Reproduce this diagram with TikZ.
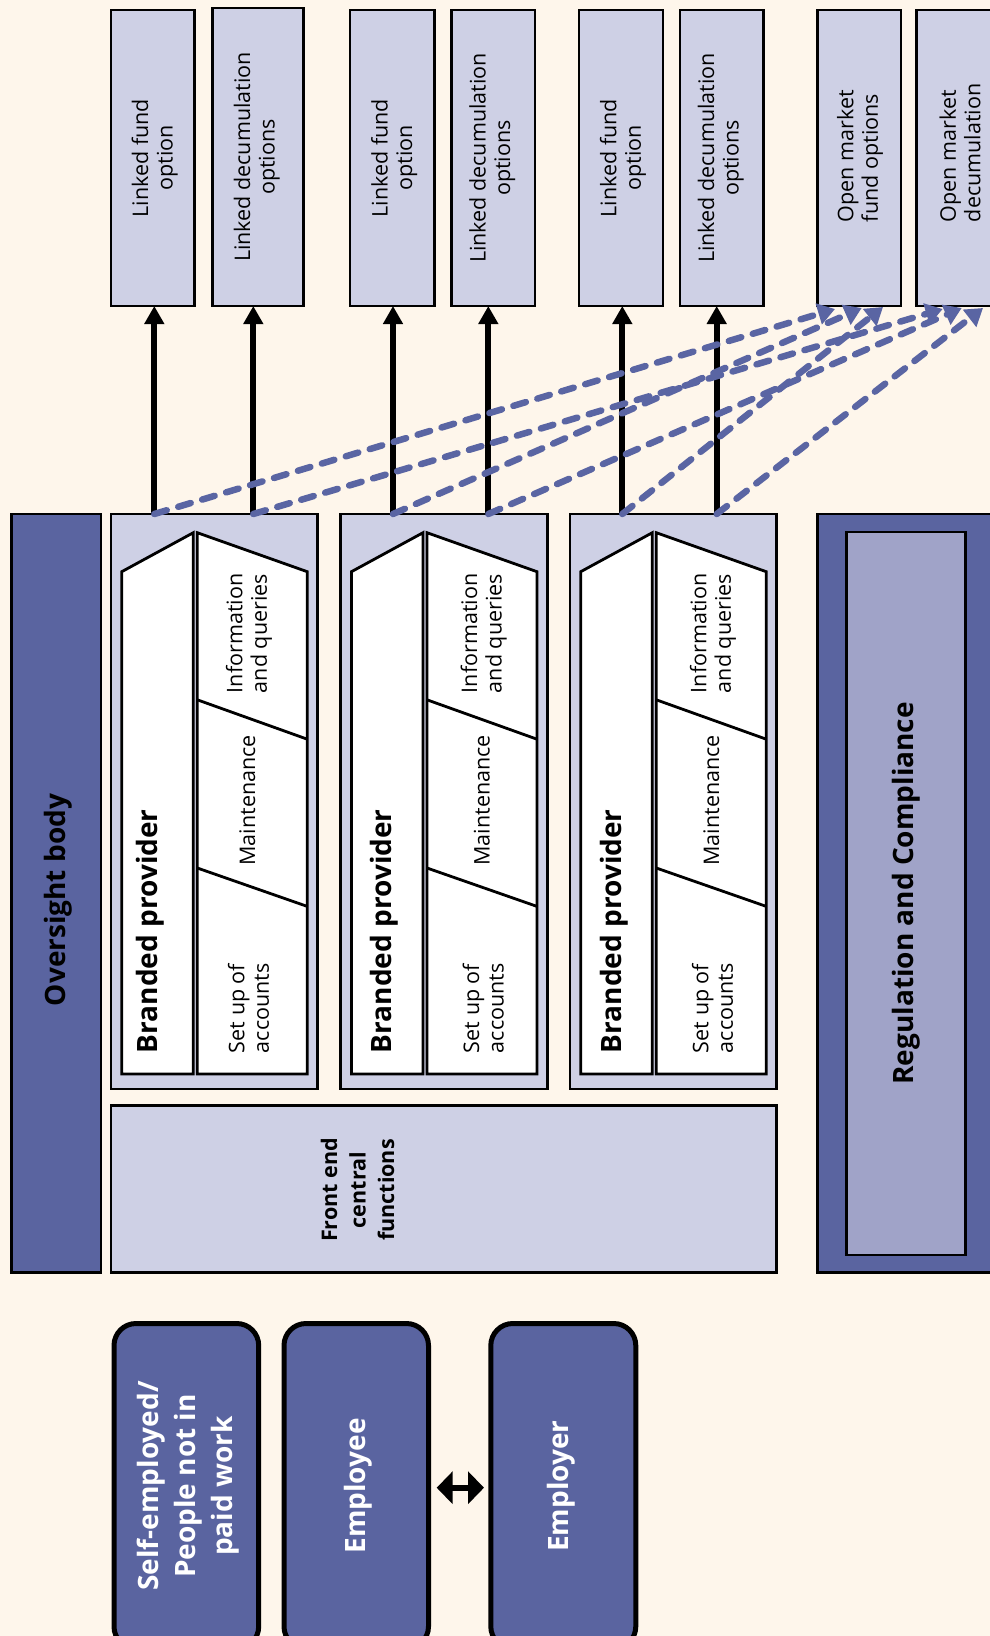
\documentclass[tikz,border=0pt]{standalone}
\usepackage{fontspec}
\setmainfont{Open Sans}
\usetikzlibrary{arrows.meta}
\definecolor{bgc}{HTML}{FEF6EB}
\definecolor{lav}{HTML}{CED0E5}
\definecolor{dblue}{HTML}{5A64A0}
\definecolor{mblue}{HTML}{A0A3C8}
\definecolor{dashc}{HTML}{5A65A3}
\newcommand{\regf}{\fontsize{21.5}{24.5}\selectfont}
\newcommand{\bigb}{\fontsize{28}{37}\selectfont\bfseries}
\newcommand{\midb}{\fontsize{21.5}{28.5}\selectfont\bfseries}
\begin{document}
\begin{tikzpicture}[x=1pt,y=-1pt,
  every node/.style={outer sep=0pt, inner sep=0pt},
  obox/.style={draw=black, line width=2.5pt, fill=lav, anchor=north west},
  dbox/.style={draw=black, line width=2.5pt, fill=dblue, anchor=north west},
  ibox/.style={draw=black, line width=2.5pt, fill=mblue, anchor=north west},
  rbox/.style={draw=black, line width=5pt, fill=dblue, rounded corners=22pt, anchor=north west},
  vtxt/.style={rotate=90, align=center, font=\regf},
  ltxt/.style={rotate=90, align=left, font=\regf},
  btxt/.style={rotate=90, align=center, font=\bigb},
  wtxt/.style={rotate=90, align=center, font=\bigb, text=white},
  wshape/.style={draw=black, line width=2.8pt, fill=white, line join=miter},
  divline/.style={draw=black, line width=2.8pt},
  solidarr/.style={line width=6pt, -{Triangle[length=18pt,width=19pt]}},
  dasharr/.style={draw=dashc, line width=6.5pt, dash pattern=on 13pt off 12pt, line cap=round, -{Triangle[length=17pt,width=21pt,fill=dashc]}},
  dblarr/.style={line width=6pt, {Triangle[length=16pt,width=32pt]}-{Triangle[length=16pt,width=32pt]}},
]
\useasboundingbox (0,0) rectangle (990,1636);
\clip (0,0) rectangle (990,1636);
\fill[bgc] (0,0) rectangle (990,1636);

% top option boxes
\node[obox, minimum width=83.7, minimum height=296] (lf1) at (111,10) {};
\node[obox, minimum width=91,   minimum height=298] (ld1) at (212.3,8) {};
\node[obox, minimum width=84.3, minimum height=296] (lf2) at (350,10) {};
\node[obox, minimum width=83.3, minimum height=296] (ld2) at (451.7,10) {};
\node[obox, minimum width=84,   minimum height=296] (lf3) at (579,10) {};
\node[obox, minimum width=83.7, minimum height=296] (ld3) at (680,10) {};
\node[obox, minimum width=83.3, minimum height=296] (om1) at (817.7,10) {};
\node[obox, minimum width=83.3, minimum height=296] (om2) at (916.7,10) {};

\node[vtxt] at ([xshift=2pt]lf1.center) {Linked fund\\option};
\node[vtxt] at ([xshift=-1pt]ld1.center) {Linked decumulation\\options};
\node[vtxt] at ([xshift=2pt]lf2.center) {Linked fund\\option};
\node[vtxt] at ([xshift=-1pt]ld2.center) {Linked decumulation\\options};
\node[vtxt] at ([xshift=2pt]lf3.center) {Linked fund\\option};
\node[vtxt] at ([xshift=-1pt]ld3.center) {Linked decumulation\\options};
\node[ltxt, anchor=west] at (860,222) {Open market\\fund options};
\node[ltxt, anchor=west] at (960,222) {Open market\\decumulation};

% oversight body
\node[dbox, minimum width=89.3, minimum height=758.5] (ob) at (11.7,514) {};
\node[btxt] at (58.5,900) {Oversight body};

% branded providers
\foreach \o/\t/\n in {0/0/A,229.7/234.7/B,459/464/C}{
  \node[obox, minimum width=206.7, minimum height=575] (bp\n) at (111+\o,514) {};
  \begin{scope}[xshift=\o]
    \draw[wshape] (121.7,1074) -- (121.7,571.7) -- (193.3,532.7) -- (193.3,1074) -- cycle;
    \draw[wshape] (197.3,1074) -- (197.3,532.7) -- (307.3,571.7) -- (307.3,1074) -- cycle;
    \draw[divline] (197.3,699.8) -- (307.3,739.2);
    \draw[divline] (197.3,868) -- (307.3,906.4);
  \end{scope}
  \node[rotate=90, anchor=base west, font=\bigb] at (157+\t,1053) {Branded provider};
  \node[ltxt, anchor=west] at (249+\t,693) {Information\\and queries};
  \node[rotate=90, anchor=base, font=\regf] at (255+\t,800.4) {Maintenance};
  \node[ltxt, anchor=west] at (248.5+\t,1053) {Set up of\\accounts};
}

% front end
\node[obox, minimum width=665.7, minimum height=167] (fe) at (111,1105.5) {};
\node[rotate=90, align=center, font=\midb] at (357.5,1190) {Front end\\central\\functions};

% regulation
\node[dbox, minimum width=177, minimum height=758.5] (rc) at (817.7,514) {};
\node[ibox, minimum width=119, minimum height=723] (rci) at (846.7,531.8) {};
\node[btxt] at (rci.center) {Regulation and Compliance};

% people
\node[rbox, minimum width=144.7, minimum height=325] (se) at (114,1323.5) {};
\node[rbox, minimum width=144.5, minimum height=325] (emp) at (284,1323.5) {};
\node[rbox, minimum width=145, minimum height=325] (empr) at (490.8,1323.5) {};
\node[wtxt] at (188.3,1486) {Self-employed/\\People not in\\paid work};
\node[wtxt] at (358.3,1486) {Employee};
\node[wtxt] at (561.7,1486) {Employer};
\draw[dblarr] ([xshift=8.2pt,yshift=-1.7pt]emp.east) -- ([xshift=-6.8pt,yshift=-1.7pt]empr.west);

% arrow start points
\coordinate (a1) at ([xshift=43.3pt]bpA.north west);
\coordinate (a2) at ([xshift=142.3pt]bpA.north west);
\coordinate (b1) at ([xshift=52.3pt]bpB.north west);
\coordinate (b2) at ([xshift=147.6pt]bpB.north west);
\coordinate (c1) at ([xshift=52.3pt]bpC.north west);
\coordinate (c2) at ([xshift=146.7pt]bpC.north west);

\draw[solidarr] (a1) -- (a1 |- lf1.south);
\draw[solidarr] (a2) -- (a2 |- ld1.south);
\draw[solidarr] (b1) -- (b1 |- lf2.south);
\draw[solidarr] (b2) -- (b2 |- ld2.south);
\draw[solidarr] (c1) -- (c1 |- lf3.south);
\draw[solidarr] (c2) -- (c2 |- ld3.south);

% dashed tips
\coordinate (d1) at ([xshift=17.3pt,yshift=-3pt]om1.south west);
\coordinate (d2) at ([xshift=44pt,yshift=-2pt]om1.south west);
\coordinate (d3) at ([xshift=65.3pt,yshift=-1pt]om1.south west);
\coordinate (e1) at ([xshift=26pt,yshift=-3pt]om2.south west);
\coordinate (e2) at ([xshift=45pt,yshift=-2pt]om2.south west);
\coordinate (e3) at ([xshift=66.3pt,yshift=-2pt]om2.south west);

\draw[dasharr] (a1) -- (d1);
\draw[dasharr] (a2) -- (e1);
\draw[dasharr] (b1) -- (d2);
\draw[dasharr] (b2) -- (e2);
\draw[dasharr] (c1) -- (d3);
\draw[dasharr] (c2) -- (e3);
\end{tikzpicture}
\end{document}
